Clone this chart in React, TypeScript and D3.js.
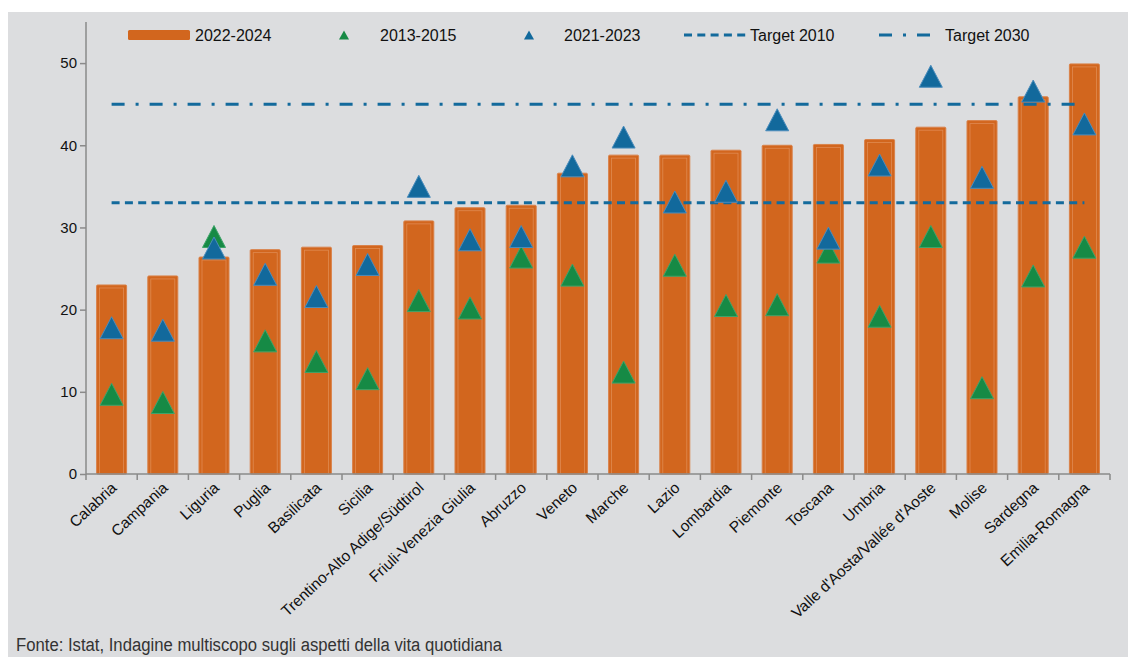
import { useEffect, useRef } from "react";
import * as d3 from "d3";

const regions = [
  "Calabria",
  "Campania",
  "Liguria",
  "Puglia",
  "Basilicata",
  "Sicilia",
  "Trentino-Alto Adige/Südtirol",
  "Friuli-Venezia Giulia",
  "Abruzzo",
  "Veneto",
  "Marche",
  "Lazio",
  "Lombardia",
  "Piemonte",
  "Toscana",
  "Umbria",
  "Valle d'Aosta/Vallée d'Aoste",
  "Molise",
  "Sardegna",
  "Emilia-Romagna",
];

const values2022_2024 = [
  23.0, 24.1, 26.4, 27.3, 27.6, 27.8, 30.8, 32.4, 32.7, 36.6, 38.8, 38.8, 39.4,
  40.0, 40.1, 40.7, 42.2, 43.0, 45.9, 49.9,
];
const values2013_2015 = [
  9.7, 8.7, 28.9, 16.2, 13.7, 11.6, 21.1, 20.2, 26.4, 24.2, 12.4, 25.4, 20.5,
  20.6, 27.0, 19.2, 28.9, 10.5, 24.1, 27.6,
];
const values2021_2023 = [
  17.8, 17.5, 27.5, 24.3, 21.6, 25.5, 35.0, 28.5, 28.9, 37.5, 41.0, 33.1, 34.4,
  43.1, 28.7, 37.6, 48.4, 36.1, 46.6, 42.6,
];
const target2010 = 33;
const target2030 = 45;
const yTicks = [0, 10, 20, 30, 40, 50];

const ORANGE = "#d2661e";
const GREEN = "#168a45";
const BLUE = "#12699c";
const LINE = "#136a9c";
const FONT = "'Liberation Sans', Arial, sans-serif";

// triangle centred on (0,0), base at the bottom
const tri = (w: number, h: number) =>
  `M0,${-h / 2}L${w / 2},${h / 2}L${-w / 2},${h / 2}Z`;

export default function App() {
  const svgRef = useRef<SVGSVGElement | null>(null);

  useEffect(() => {
    if (!svgRef.current) return;
    const svg = d3.select(svgRef.current);
    svg.selectAll("*").remove();

    // background panel
    svg
      .append("rect")
      .attr("x", 8)
      .attr("y", 12)
      .attr("width", 1120)
      .attr("height", 645)
      .attr("fill", "#dcdddf");

    const x = d3
      .scaleBand<string>()
      .domain(regions)
      .range([86, 1110])
      .paddingInner(0.414)
      .paddingOuter(0.207);
    const step = x.step();
    const cx = (r: string) => (x(r) ?? 0) + x.bandwidth() / 2;

    const y = d3.scaleLinear().domain([0, 55]).range([474, 22]);

    // y axis
    const yAxis = svg.append("g").attr("transform", "translate(86,0)");
    yAxis
      .call(d3.axisLeft(y).tickValues(yTicks).tickSize(6).tickPadding(3))
      .call((g) => g.select(".domain").remove());
    yAxis.selectAll("line").attr("stroke", "#8a8a8a").attr("stroke-width", 1.5);
    yAxis
      .selectAll("text")
      .attr("font-family", FONT)
      .attr("font-size", 15)
      .attr("fill", "#111");
    yAxis
      .append("line")
      .attr("y1", y(55))
      .attr("y2", y(0))
      .attr("stroke", "#8a8a8a")
      .attr("stroke-width", 1.5);

    // bars
    const bars = svg.append("g");
    regions.forEach((r, i) => {
      const bx = x(r) ?? 0;
      const top = y(values2022_2024[i]);
      bars
        .append("rect")
        .attr("x", bx)
        .attr("y", top)
        .attr("width", x.bandwidth())
        .attr("height", y(0) - top)
        .attr("rx", 1)
        .attr("fill", ORANGE)
        .attr("stroke", "#d9824a")
        .attr("stroke-width", 1);
      bars
        .append("rect")
        .attr("x", bx + 3)
        .attr("y", top + 3)
        .attr("width", x.bandwidth() - 6)
        .attr("height", y(0) - top - 3)
        .attr("fill", "none")
        .attr("stroke", "#e08a52")
        .attr("stroke-width", 0.8);
    });

    // x axis
    const xAxis = svg.append("g");
    xAxis
      .append("line")
      .attr("x1", 86)
      .attr("x2", 1110)
      .attr("y1", y(0))
      .attr("y2", y(0))
      .attr("stroke", "#8a8a8a")
      .attr("stroke-width", 1.5);
    d3.range(regions.length + 1).forEach((i) => {
      const tx = 86 + i * step;
      xAxis
        .append("line")
        .attr("x1", tx)
        .attr("x2", tx)
        .attr("y1", y(0))
        .attr("y2", y(0) + 6)
        .attr("stroke", "#8a8a8a")
        .attr("stroke-width", 1.5);
    });
    regions.forEach((r) => {
      xAxis
        .append("text")
        .attr("transform", `translate(${cx(r) + 6},${y(0) + 15}) rotate(-43)`)
        .attr("text-anchor", "end")
        .attr("font-family", FONT)
        .attr("font-size", 15.5)
        .attr("fill", "#111")
        .text(r);
    });

    // target lines
    const x0 = cx(regions[0]);
    const x1 = cx(regions[regions.length - 1]);
    svg
      .append("line")
      .attr("x1", x0)
      .attr("x2", x1)
      .attr("y1", y(target2010))
      .attr("y2", y(target2010))
      .attr("stroke", LINE)
      .attr("stroke-width", 3)
      .attr("stroke-dasharray", "8 5.3");
    svg
      .append("line")
      .attr("x1", x0)
      .attr("x2", x1)
      .attr("y1", y(target2030))
      .attr("y2", y(target2030))
      .attr("stroke", LINE)
      .attr("stroke-width", 3)
      .attr("stroke-dasharray", "13 11 3 11");

    // triangle markers
    const marks = svg.append("g");
    regions.forEach((r, i) => {
      marks
        .append("path")
        .attr("d", tri(23, 22))
        .attr("transform", `translate(${cx(r)},${y(values2013_2015[i])})`)
        .attr("fill", GREEN)
        .attr("stroke", "#3fa46a")
        .attr("stroke-width", 1);
    });
    regions.forEach((r, i) => {
      marks
        .append("path")
        .attr("d", tri(23, 22))
        .attr("transform", `translate(${cx(r)},${y(values2021_2023[i])})`)
        .attr("fill", BLUE)
        .attr("stroke", "#4a8cbc")
        .attr("stroke-width", 1);
    });

    // legend
    const legend = svg.append("g");
    const ly = 35;
    const legendText = (lx: number, t: string) =>
      legend
        .append("text")
        .attr("x", lx)
        .attr("y", ly + 6)
        .attr("font-family", FONT)
        .attr("font-size", 16)
        .attr("fill", "#111")
        .text(t);
    legend
      .append("rect")
      .attr("x", 128)
      .attr("y", ly - 5)
      .attr("width", 62)
      .attr("height", 10)
      .attr("rx", 1.5)
      .attr("fill", ORANGE);
    legendText(195, "2022-2024");
    legend
      .append("path")
      .attr("d", tri(10, 9))
      .attr("transform", `translate(344,${ly})`)
      .attr("fill", GREEN);
    legendText(380, "2013-2015");
    legend
      .append("path")
      .attr("d", tri(10, 9))
      .attr("transform", `translate(529,${ly})`)
      .attr("fill", BLUE);
    legendText(564, "2021-2023");
    legend
      .append("line")
      .attr("x1", 684)
      .attr("x2", 746)
      .attr("y1", ly)
      .attr("y2", ly)
      .attr("stroke", LINE)
      .attr("stroke-width", 3)
      .attr("stroke-dasharray", "8 5.3");
    legendText(750, "Target 2010");
    legend
      .append("line")
      .attr("x1", 879)
      .attr("x2", 930)
      .attr("y1", ly)
      .attr("y2", ly)
      .attr("stroke", LINE)
      .attr("stroke-width", 3)
      .attr("stroke-dasharray", "13 11 3 11");
    legendText(945, "Target 2030");

    // source (condensed face in the original)
    svg
      .append("text")
      .attr("x", 16)
      .attr("y", 651)
      .attr("font-family", FONT)
      .attr("font-size", 18)
      .attr("textLength", 486)
      .attr("lengthAdjust", "spacingAndGlyphs")
      .attr("fill", "#333")
      .text("Fonte: Istat, Indagine multiscopo sugli aspetti della vita quotidiana");
  }, []);

  return (
    <svg
      ref={svgRef}
      width={1128}
      height={657}
      style={{ position: "absolute", left: 0, top: 0, background: "#fff" }}
    ></svg>
  );
}
